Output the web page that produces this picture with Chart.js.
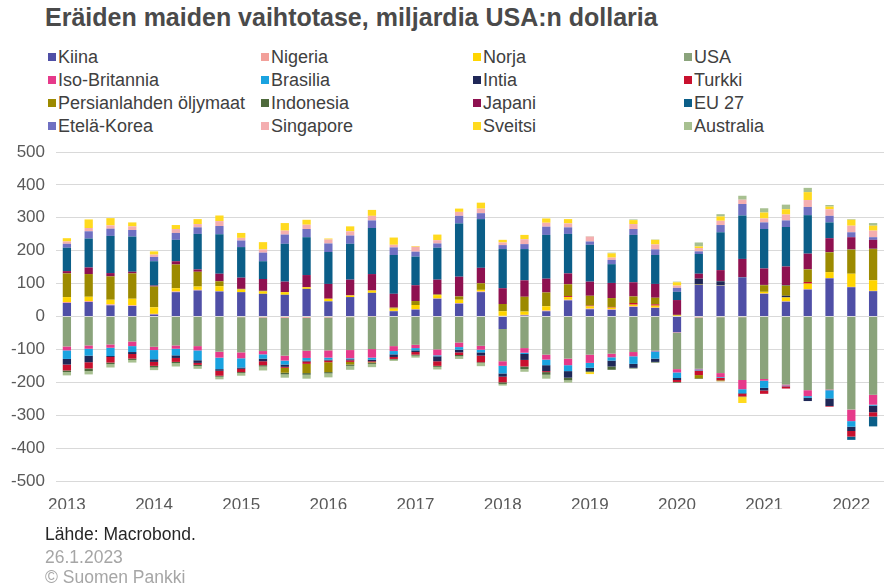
<!DOCTYPE html>
<html>
<head>
<meta charset="utf-8">
<script src="https://cdn.jsdelivr.net/npm/chart.js@4/dist/chart.umd.min.js"></script>
<style>
  body { margin: 0; background: #fff; font-family: 'Liberation Sans', Arial, sans-serif; }
  #wrap { position: relative; width: 888px; height: 586px; overflow: hidden; }
  #chart { position: absolute; left: 0; top: 0; }
  .title { position: absolute; left: 45px; top: 3px; font-size: 25px; font-weight: bold; color: #4a4a4a; white-space: nowrap; }
  .leg { position: absolute; font-size: 18px; color: #404040; white-space: nowrap; line-height: 20px; }
  .leg span { display: inline-block; width: 8px; height: 8px; margin-right: 2px; vertical-align: 2px; }
  .foot { position: absolute; left: 45px; font-size: 17.5px; white-space: nowrap; }
</style>
</head>
<body>
<div id="wrap">
  <div class="title">Eräiden maiden vaihtotase, miljardia USA:n dollaria</div>
  <div id="legend"></div>
  <canvas id="chart" width="888" height="586"></canvas>
  <div class="foot" style="top:524px;color:#262626">Lähde: Macrobond.</div>
  <div class="foot" style="top:547px;color:#a6a6a6">26.1.2023</div>
  <div class="foot" style="top:567px;color:#a6a6a6">© Suomen Pankki</div>
</div>
<script>
// neljännekset 2013Q1 - 2022Q2
const quarters = [
  '2013Q1','2013Q2','2013Q3','2013Q4','2014Q1','2014Q2','2014Q3','2014Q4',
  '2015Q1','2015Q2','2015Q3','2015Q4','2016Q1','2016Q2','2016Q3','2016Q4',
  '2017Q1','2017Q2','2017Q3','2017Q4','2018Q1','2018Q2','2018Q3','2018Q4',
  '2019Q1','2019Q2','2019Q3','2019Q4','2020Q1','2020Q2','2020Q3','2020Q4',
  '2021Q1','2021Q2','2021Q3','2021Q4','2022Q1','2022Q2'
];
const yearTicks = ['2013','2014','2015','2016','2017','2018','2019','2020','2021','2022'];
const yTicks = [500, 400, 300, 200, 100, 0, -100, -200, -300, -400, -500];

const kiina = [41,44,34,32,6,74,79,76,74,69,66,84,46,59,72,16,21,54,39,74,-38,3,16,49,22,20,29,26,-48,96,94,119,69,45,82,116,89,77];
const nigeria = [3,3,3,2,2,2,2,1,-2,-3,-4,-4,-3,-2,-1,1,1,1,2,2,2,2,2,2,2,2,2,1,-2,-3,-2,-2,1,1,1,1,1,1];
const norja = [15,13,14,20,20,10,10,15,8,7,8,5,8,5,7,7,13,10,10,5,14,10,13,8,7,5,5,6,3,1,1,0,5,12,17,18,40,32];
const usa = [-91,-88,-85,-76,-92,-88,-90,-107,-107,-102,-115,-100,-100,-100,-98,-90,-86,-100,-79,-89,-98,-96,-116,-128,-116,-113,-108,-104,-110,-156,-170,-191,-190,-207,-224,-222,-283,-238];
const isoBritannia = [-12,-10,-10,-14,-10,-10,-13,-18,-18,-10,-15,-22,-22,-25,-26,-15,-10,-18,-14,-12,-14,-14,-15,-20,-25,-11,-13,-2,-10,-2,-12,-28,-5,-3,-18,-2,-35,-30];
const brasilia = [-26,-21,-25,-18,-28,-20,-30,-35,-28,-13,-12,-8,-6,-3,-6,-10,-7,-3,-8,-8,-23,-4,-17,-18,-15,-10,-23,-22,-17,-3,-2,-12,-22,-2,-5,-25,-17,-3];
const intia = [-17,-20,-3,-6,-8,-8,-8,-5,-4,-8,-7,-3,-3,-3,-5,-8,-5,-15,-8,-10,-10,-18,-18,-20,-10,-18,-12,-10,-6,18,12,-2,-8,5,-10,-23,-13,-20];
const turkki = [-18,-19,-17,-14,-12,-12,-6,-15,-10,-12,-3,-7,-5,-5,-3,-6,-8,-14,-8,-20,-17,-20,-3,3,2,2,5,4,-6,-14,-8,-8,-10,-7,5,-2,-17,-13];
const persianlahti = [72,69,71,77,63,72,45,15,2,2,-15,-28,-30,-8,-2,3,12,2,10,20,22,45,42,36,30,27,20,20,2,-10,-3,-2,20,30,38,60,73,95];
const indonesia = [-5,-8,-5,-4,-5,-4,-4,-3,-3,-4,-5,-5,-4,-4,-3,-2,-3,-3,-4,-2,-5,-8,-8,-8,-3,-10,-2,-2,-2,-2,1,1,1,2,1,1,1,1];
const japani = [7,20,10,5,3,10,7,23,34,36,32,37,45,48,50,42,48,45,60,47,48,50,42,33,43,46,43,42,45,15,33,55,50,57,47,42,37,27];
const eu27 = [71,88,113,107,74,65,108,120,93,54,115,115,97,109,140,118,87,97,162,148,119,95,133,120,112,57,144,88,25,60,115,132,120,120,117,48,-10,-30];
const etelaKorea = [12,22,22,20,13,21,20,25,20,26,28,25,26,25,23,23,15,13,23,18,12,15,25,20,10,13,18,17,12,8,22,35,20,20,25,20,15,8];
const singapore = [7,10,10,11,7,12,10,15,8,10,12,13,12,13,14,8,15,10,12,14,8,15,12,12,15,7,15,15,7,10,13,13,12,18,21,20,20,20];
const sveitsi = [10,26,22,12,10,12,15,17,15,22,23,15,3,15,18,22,2,17,10,18,8,13,13,13,-6,13,12,14,10,5,13,-18,18,16,24,8,18,15];
const australia = [-10,-10,-10,-8,-8,-10,-8,-8,-8,-12,-10,-12,-12,-12,-10,-4,-6,-8,-8,-10,-5,-8,-12,-7,1,2,2,1,2,12,7,12,13,14,13,5,2,8];

const seriesNames = ['Kiina','Nigeria','Norja','USA','Iso-Britannia','Brasilia','Intia','Turkki',
  'Persianlahden öljymaat','Indonesia','Japani','EU 27','Etelä-Korea','Singapore','Sveitsi','Australia'];
const seriesData = [kiina, nigeria, norja, usa, isoBritannia, brasilia, intia, turkki,
  persianlahti, indonesia, japani, eu27, etelaKorea, singapore, sveitsi, australia];
const seriesColors = ['#4F4FA6','#F2A09A','#FFD500','#8AA37B','#E63A8A','#1AA3E0','#1F2857','#C8102E',
  '#9C8A00','#4E6A3C','#8E1150','#0B5E88','#6F70C2','#F4AEB0','#FFDA1F','#A7C090'];

// legend 4 columns
const legendEl = document.getElementById('legend');
const colX = [48, 261, 473, 684];
const rowY = [47, 70, 93, 116];
seriesNames.forEach((name, i) => {
  const d = document.createElement('div');
  d.className = 'leg';
  d.style.left = colX[i % 4] + 'px';
  d.style.top = rowY[Math.floor(i / 4)] + 'px';
  d.innerHTML = '<span style="background:' + seriesColors[i] + '"></span>' + name;
  legendEl.appendChild(d);
});

Chart.defaults.font.family = "'Liberation Sans', Arial, sans-serif";
Chart.defaults.font.size = 17;
Chart.defaults.color = '#595959';

new Chart(document.getElementById('chart'), {
  type: 'bar',
  data: {
    labels: quarters,
    datasets: seriesData.map((d, i) => ({
      label: seriesNames[i],
      data: d,
      backgroundColor: seriesColors[i],
      borderWidth: 0,
      categoryPercentage: 0.38,
      barPercentage: 1
    }))
  },
  options: {
    responsive: false,
    animation: false,
    devicePixelRatio: 1,
    layout: { padding: { top: 152, bottom: 77, left: 0, right: 4 } },
    plugins: { legend: { display: false }, tooltip: { enabled: false } },
    scales: {
      x: {
        stacked: true,
        grid: { display: false },
        border: { display: false },
        afterFit: s => { s.height = 28; },
        ticks: {
          autoSkip: false,
          maxRotation: 0,
          padding: 6,
          callback: function(v, i) {
            const q = quarters[i];
            return q.endsWith('Q1') && yearTicks.includes(q.slice(0, 4)) ? q.slice(0, 4) : '';
          }
        }
      },
      y: {
        stacked: true,
        min: -500,
        max: 500,
        afterFit: s => { s.width = 56; },
        afterBuildTicks: s => { s.ticks = yTicks.map(v => ({ value: v })); },
        grid: { color: '#d9d9d9', drawTicks: false },
        border: { display: false },
        ticks: { padding: 11 }
      }
    }
  }
});
</script>
</body>
</html>
